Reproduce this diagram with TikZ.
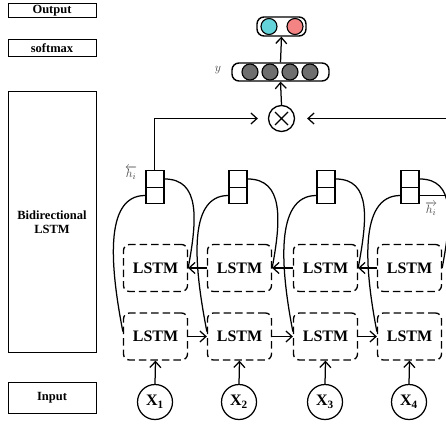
\documentclass[tikz,border=0pt]{standalone}
\usepackage{fontspec}
\setmainfont{Liberation Serif}
\usetikzlibrary{arrows.meta,calc}
\definecolor{cyanc}{RGB}{100,212,218}
\definecolor{redc}{RGB}{244,132,132}
\definecolor{grayc}{RGB}{110,110,110}
\definecolor{labc}{RGB}{70,70,70}
\begin{document}
\begin{tikzpicture}[x=1pt,y=-1pt,line width=1.25pt,
  sidebox/.style={draw,line width=1pt,minimum width=88pt,inner sep=0pt,align=center,font=\fontsize{12.5}{14}\selectfont\bfseries},
  lstm/.style={draw,dash pattern=on 7.5pt off 4pt,rounded corners=6pt,minimum width=64pt,minimum height=47pt,inner sep=0pt,font=\fontsize{16}{17}\selectfont\bfseries,line width=1.3pt},
  xin/.style={draw,circle,minimum size=35pt,inner sep=0pt,font=\fontsize{16}{17}\selectfont\bfseries},
  cell/.style={draw,minimum width=18pt,minimum height=16.5pt,inner sep=0pt,line width=1.4pt},
  vec/.style={draw,rounded corners=7pt,inner sep=0pt,line width=1.4pt,fill=white},
  dot/.style={draw,circle,inner sep=0pt,minimum size=#1,line width=1.1pt},
  arr/.style={-{Straight Barb[length=6pt,width=11pt]}},
  curve/.style={line width=1.25pt},
  lab/.style={text=labc,font=\fontsize{13}{14}\selectfont}
]
\useasboundingbox (0,0) rectangle (446,425);
\clip (0,0) rectangle (446,425);

% side boxes
\node[sidebox,minimum height=13.7pt] (sout) at (52,10.8) {Output};
\node[sidebox,minimum height=16.7pt] (ssoft) at (52,48.3) {softmax};
\node[sidebox,minimum height=261pt] (sbi) at (52,222.3) {Bidirectional\\LSTM};
\node[sidebox,minimum height=30.6pt] (sin) at (52,398) {Input};

% output vector
\node[vec,minimum width=49pt,minimum height=19pt] (ovec) at (281.5,26.5) {};
\node[dot=16pt,fill=cyanc] (oca) at (269,26.5) {};
\node[dot=16pt,fill=redc] (ocb) at (295,26.5) {};

% y vector
\node[vec,minimum width=97pt,minimum height=18pt] (yvec) at (280.5,72) {};
\foreach \i/\xx in {1/250,2/270,3/290,4/310}
  \node[dot=16pt,fill=grayc] (yc\i) at (\xx,72) {};
\node[lab] (ylab) at (218,70) {$y$};

% otimes
\node[draw,circle,minimum size=26pt,inner sep=0pt,line width=1.3pt] (ot) at (281.5,118.5) {};
\draw[line width=1.3pt] ($(ot.center)+(-6.5,-6.5)$) -- ($(ot.center)+(6.5,6.5)$)
                        ($(ot.center)+(-6.5,6.5)$) -- ($(ot.center)+(6.5,-6.5)$);

\draw[arr] (ot.north) -- (yvec.south);
\draw[arr] (yvec.north) -- (ovec.south);

% hidden cells, LSTMs, inputs
\foreach \i/\hx/\lx/\xx in {1/154.8/155.5/155,2/238/239.5/239,3/326/325.5/325,4/410/409.5/409}{
  \node[cell] (ht\i) at (\hx,179) {};
  \node[cell] (hb\i) at (\hx,195.5) {};
  \node[lstm] (lt\i) at (\lx,268) {LSTM};
  \node[lstm] (lb\i) at (\lx,336.5) {LSTM};
  \node[xin] (x\i) at (\xx,402) {X\textsubscript{\i}};
  \draw[arr] (x\i.north) -- (lb\i.south);
  \draw[curve] (ht\i.east) .. controls +(36,0) and +(9,-48) .. (lt\i.east);
  \draw[curve] (hb\i.west) .. controls +(-42,0) and +(-12,-62) .. ($(lb\i.west)+(0,-5)$);
}
\foreach \a/\b in {1/2,2/3,3/4}{
  \draw[arr] (lb\a.east) -- (lb\b.west);
  \draw[arr] (lt\b.west) -- (lt\a.east);
}

% connections to otimes
\coordinate (rin) at (450,118.5);
\coordinate (rout) at (450,195.5);
\draw[arr,shorten >=10pt] (ht1.north) |- (ot.west);
\draw[arr,shorten >=12pt] (rin) -- (ot.east);
\draw (hb4.east) -- (rout);

\node[lab] (hl) at (131,173) {$\overleftarrow{h_i}$};
\node[lab] (hr) at (431,209) {$\overrightarrow{h_i}$};
\end{tikzpicture}
\end{document}
